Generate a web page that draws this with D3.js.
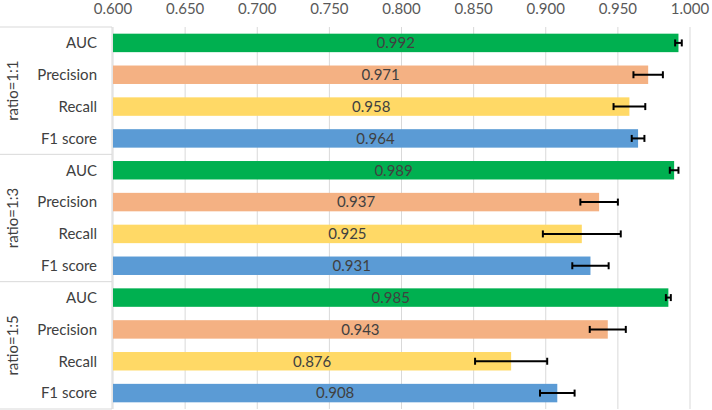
<!DOCTYPE html>
<html>
<head>
<meta charset="utf-8">
<script src="https://cdn.jsdelivr.net/npm/d3@7"></script>
<style>
  body { margin: 0; background: #fff; }
  svg text { font-family: Lato, Carlito, "Liberation Sans", sans-serif; }
</style>
</head>
<body>
<div id="chart"></div>
<script>
(function(){
  // values
  const groups = ['ratio=1:1', 'ratio=1:3', 'ratio=1:5']
  const metrics = ['AUC', 'Precision', 'Recall', 'F1 score']
  const colors = ['#00B050', '#F4B183', '#FFD966', '#5B9BD5']
  const values = [
    [0.992, 0.971, 0.958, 0.964],
    [0.989, 0.937, 0.925, 0.931],
    [0.985, 0.943, 0.876, 0.908]
  ]
  const errors = [
    [0.0023, 0.0102, 0.011, 0.0044],
    [0.003, 0.013, 0.027, 0.0126],
    [0.0017, 0.0125, 0.025, 0.012]
  ]
  const ticks = [0.6, 0.65, 0.7, 0.75, 0.8, 0.85, 0.9, 0.95, 1.0]

  const width = 712, height = 410
  const left = 113, right = 690, top = 27, bottom = 409
  const labelBox = 112

  const rows = []
  groups.forEach((g, gi) => {
    metrics.forEach((m, mi) => {
      rows.push({ id: g + '|' + m, group: g, metric: m, color: colors[mi],
        value: values[gi][mi], err: errors[gi][mi] })
    })
  })

  const x = d3.scaleLinear().domain([0.6, 1.0]).range([left, right])
  const y = d3.scaleBand().domain(rows.map(d => d.id)).range([top, bottom]).paddingInner(0.42).paddingOuter(0.21)
  const step = y.step()

  const svg = d3.select('#chart').append('svg')
    .attr('width', width).attr('height', height)

  // gridlines
  svg.append('g').selectAll('line')
    .data(ticks)
    .enter().append('line')
    .attr('x1', d => x(d)).attr('x2', d => x(d))
    .attr('y1', top).attr('y2', bottom)
    .style('stroke', '#D9D9D9').style('stroke-width', 1)

  // top axis labels
  svg.append('g').selectAll('text')
    .data(ticks)
    .enter().append('text')
    .attr('x', d => x(d)).attr('y', 14)
    .attr('text-anchor', 'middle')
    .style('font-size', '15px').style('fill', '#595959')
    .text(d => d3.format('.3f')(d))

  // category box lines
  const bounds = groups.map((g, gi) => top + gi * 4 * step).concat([bottom])
  svg.append('g').selectAll('line')
    .data(bounds)
    .enter().append('line')
    .attr('x1', 0).attr('x2', labelBox)
    .attr('y1', d => d).attr('y2', d => d)
    .style('stroke', '#D9D9D9').style('stroke-width', 1)
  svg.append('line')
    .attr('x1', labelBox).attr('x2', labelBox)
    .attr('y1', top).attr('y2', bottom)
    .style('stroke', '#D9D9D9').style('stroke-width', 1)

  // group labels
  svg.append('g').selectAll('text')
    .data(groups)
    .enter().append('text')
    .attr('transform', (d, i) => `translate(18,${(bounds[i] + bounds[i + 1]) / 2}) rotate(-90)`)
    .attr('text-anchor', 'middle')
    .style('font-size', '15px').style('fill', '#404040')
    .text(d => d)

  // metric labels
  svg.append('g').selectAll('text')
    .data(rows)
    .enter().append('text')
    .attr('x', 97).attr('y', d => y(d.id) + y.bandwidth() / 2)
    .attr('dy', '0.36em')
    .attr('text-anchor', 'end')
    .style('font-size', '15px').style('fill', '#404040')
    .text(d => d.metric)

  // bars
  svg.append('g').selectAll('rect')
    .data(rows)
    .enter().append('rect')
    .attr('x', x(0.6)).attr('y', d => y(d.id))
    .attr('width', d => x(d.value) - x(0.6))
    .attr('height', y.bandwidth())
    .style('fill', d => d.color)

  // value labels
  svg.append('g').selectAll('text')
    .data(rows)
    .enter().append('text')
    .attr('x', d => (x(0.6) + x(d.value)) / 2)
    .attr('y', d => y(d.id) + y.bandwidth() / 2)
    .attr('dy', '0.36em')
    .attr('text-anchor', 'middle')
    .style('font-size', '15px').style('fill', '#404040')
    .text(d => d3.format('.3f')(d.value))

  // error bars
  const eb = svg.append('g').selectAll('g')
    .data(rows)
    .enter().append('g')
    .style('stroke', '#000').style('stroke-width', 2)
  eb.append('line')
    .attr('x1', d => x(d.value - d.err)).attr('x2', d => x(d.value + d.err))
    .attr('y1', d => y(d.id) + y.bandwidth() / 2).attr('y2', d => y(d.id) + y.bandwidth() / 2)
  eb.selectAll('.cap')
    .data(d => [d.value - d.err, d.value + d.err].map(v => ({ v: v, cy: y(d.id) + y.bandwidth() / 2 })))
    .enter().append('line')
    .attr('class', 'cap')
    .attr('x1', d => x(d.v)).attr('x2', d => x(d.v))
    .attr('y1', d => d.cy - 3.5).attr('y2', d => d.cy + 3.5)
})()
</script>
</body>
</html>
